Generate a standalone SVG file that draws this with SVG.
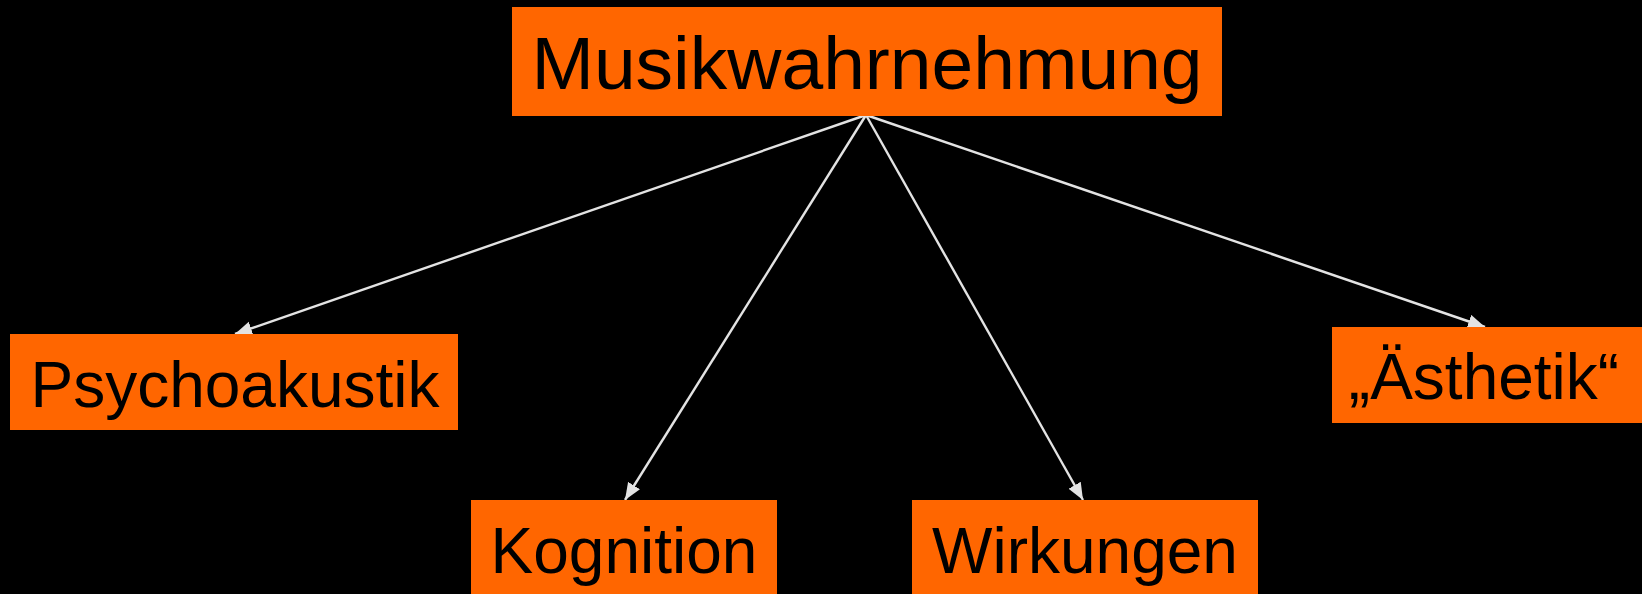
<svg xmlns="http://www.w3.org/2000/svg" width="1642" height="594" viewBox="0 0 1642 594">
<style>
.box{fill:#ff6600}
.lbl{font-family:"Liberation Sans",Arial,sans-serif;fill:#000;text-anchor:middle}
.edge{stroke:#e3e3e3;stroke-width:2.4;fill:none;marker-end:url(#arr)}
</style>
<defs>
<marker id="arr" markerUnits="userSpaceOnUse" markerWidth="19" markerHeight="15" refX="17" refY="7" orient="auto">
<path d="M0,0 L17,7 L0,14 Z" fill="#e3e3e3"/>
</marker>
</defs>
<rect width="1642" height="594" fill="#000"/>
<g id="connectors">
<line class="edge" x1="866" y1="115" x2="235" y2="334"/>
<line class="edge" x1="866" y1="115" x2="625" y2="500"/>
<line class="edge" x1="866" y1="115" x2="1083" y2="500"/>
<line class="edge" x1="866" y1="115" x2="1485" y2="327"/>
</g>
<g id="musikwahrnehmung">
<rect class="box" x="512" y="7" width="710" height="109"/>
<text class="lbl" x="867" y="89" font-size="75">Musikwahrnehmung</text>
</g>
<g id="psychoakustik">
<rect class="box" x="10" y="334" width="448" height="96"/>
<text class="lbl" x="235" y="407" font-size="64">Psychoakustik</text>
</g>
<g id="kognition">
<rect class="box" x="471" y="500" width="306" height="94"/>
<text class="lbl" x="624" y="573" font-size="64">Kognition</text>
</g>
<g id="wirkungen">
<rect class="box" x="912" y="500" width="346" height="94"/>
<text class="lbl" x="1085" y="573" font-size="64">Wirkungen</text>
</g>
<g id="aesthetik">
<rect class="box" x="1332" y="327" width="310" height="96"/>
<text class="lbl" x="1484" y="399" font-size="64">„Ästhetik“</text>
</g>
</svg>
